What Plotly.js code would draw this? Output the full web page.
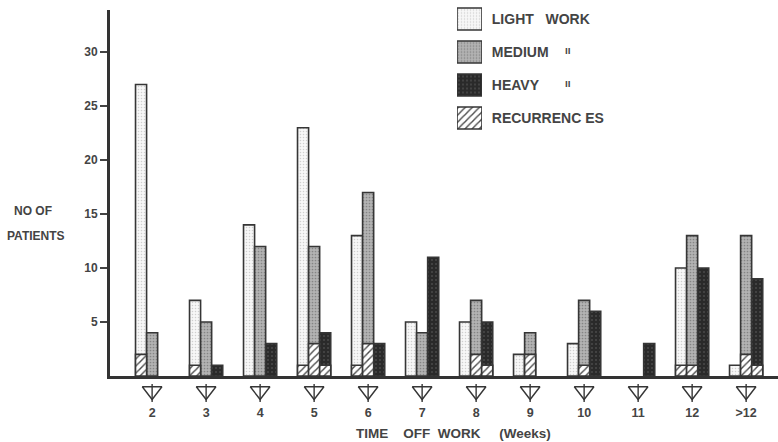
<!DOCTYPE html>
<html><head><meta charset="utf-8">
<script src="https://cdn.plot.ly/plotly-3.0.1.min.js"></script>
<style>html,body{margin:0;padding:0;background:#fff}#chart{width:778px;height:442px}</style>
</head><body><div id="chart"></div>
<script>
// ---- data ----
const weeks = ['2','3','4','5','6','7','8','9','10','11','12','>12'];
const lightWork  = [27, 7, 14, 23, 13, 5, 5, 2, 3, null, 10, 1];
const mediumWork = [4, 5, 12, 12, 17, 4, 7, 4, 7, null, 13, 13];
const heavyWork  = [null, 1, 3, 4, 3, 11, 5, null, 6, 3, 10, 9];
const recurLight  = [2, 1, null, 1, 1, null, null, null, null, null, 1, null];
const recurMedium = [null, null, null, 3, 3, null, 2, 2, 1, null, 1, 2];
const recurHeavy  = [null, null, null, 1, null, null, 1, null, null, null, null, 1];
const yTickVals = [5, 10, 15, 20, 25, 30];
const legendLabels = ['LIGHT   WORK', 'MEDIUM', 'HEAVY', 'RECURRENC ES'];
const dittoMark = 'ıı';
const xTitle = 'TIME    OFF  WORK     (Weeks)';
const yTitleLines = ['NO OF', 'PATIENTS'];

// ---- styles ----
const FONT = 'Liberation Sans, Arial, Helvetica, sans-serif';
const INK = '#363636';
const nb = s => s.replace(/ /g, '\u00a0');
const fills = {
  light:  {color:'#f4f4f4', pattern:{shape:'.', fgcolor:'#cfcfcf', bgcolor:'#f7f7f7', size:3, solidity:0.2}},
  medium: {color:'#ababab', pattern:{shape:'.', fgcolor:'#858585', bgcolor:'#b3b3b3', size:3, solidity:0.25}},
  heavy:  {color:'#2c2c2c', pattern:{shape:'.', fgcolor:'#4a4a4a', bgcolor:'#2a2a2a', size:4, solidity:0.2}},
  recur:  {color:'#ffffff', pattern:{shape:'/', fgcolor:'#4a4a4a', bgcolor:'#ffffff', size:5, solidity:0.28}}
};
const W = 0.205;
const OFF = [-0.3075, -0.1025, 0.1025];
const PH = 400;               // plot-area height in px (margin.t = 0)
const py = px => (PH - px) / PH;   // pixel row -> paper y
const px2 = px => (px - 110) / 668; // pixel column -> paper x

function bar(y, off, f) {
  return {type:'bar', x:weeks, y:y, width:W, offset:off, cliponaxis:false,
    marker:{color:f.color, pattern:f.pattern, line:{color:INK, width:1.6}},
    hoverinfo:'skip', showlegend:false};
}
function legendSwatch(label, f) {
  return {type:'bar', orientation:'h', y:[nb(label)], x:[1], xaxis:'x2', yaxis:'y2',
    width:0.67, cliponaxis:false,
    marker:{color:f.color, pattern:f.pattern, line:{color:INK, width:1.6}},
    hoverinfo:'skip', showlegend:false};
}

const traces = [
  bar(lightWork, OFF[0], fills.light),
  bar(mediumWork, OFF[1], fills.medium),
  bar(heavyWork, OFF[2], fills.heavy),
  bar(recurLight, OFF[0], fills.recur),
  bar(recurMedium, OFF[1], fills.recur),
  bar(recurHeavy, OFF[2], fills.recur),
  // arrow markers in the strip under the axis
  {type:'scatter', mode:'markers', x:weeks, y:weeks.map(() => -14), xaxis:'x3', yaxis:'y3',
   cliponaxis:false,
   marker:{symbol:'triangle-down-open', size:17, color:INK, line:{width:1.4, color:INK}},
   hoverinfo:'skip', showlegend:false},
  {type:'scatter', mode:'markers', x:weeks, y:weeks.map(() => -16), xaxis:'x3', yaxis:'y3',
   cliponaxis:false,
   marker:{symbol:'line-ns-open', size:13, color:INK, line:{width:1.4, color:INK}},
   hoverinfo:'skip', showlegend:false},
  legendSwatch(legendLabels[0], fills.light),
  legendSwatch(legendLabels[1], fills.medium),
  legendSwatch(legendLabels[2], fills.heavy),
  legendSwatch(legendLabels[3], fills.recur)
];

const tf = {family:FONT, size:12, color:'#444', weight:'bold'};
const layout = {
  width:778, height:442,
  margin:{l:110, r:0, t:0, b:442 - PH},
  paper_bgcolor:'#fff', plot_bgcolor:'rgba(0,0,0,0)',
  barmode:'overlay', showlegend:false,
  font:{family:FONT, color:'#444'},
  xaxis:{type:'category', range:[-0.78, 11.59], showgrid:false, zeroline:false,
    showline:true, linewidth:3, linecolor:'#333',
    ticks:'outside', ticklen:23, tickcolor:'rgba(0,0,0,0)', tickfont:{...tf, size:12.5},
    fixedrange:true},
  yaxis:{domain:[py(376), py(10)], range:[0, 33.9], showgrid:false, zeroline:false,
    showline:true, linewidth:3, linecolor:'#333',
    tickvals:yTickVals, ticks:'outside', ticklen:7, tickwidth:1.5, tickcolor:'#444',
    tickfont:tf, fixedrange:true},
  xaxis3:{type:'category', matches:'x', anchor:'y3', visible:false, fixedrange:true},
  yaxis3:{domain:[0, py(377)], range:[-(PH - 377), 0], anchor:'x3', visible:false, fixedrange:true},
  xaxis2:{domain:[px2(457), px2(482)], range:[0, 1], anchor:'y2', visible:false, fixedrange:true},
  yaxis2:{domain:[py(134.5), py(2.5)], anchor:'x2', type:'category', autorange:'reversed',
    side:'right', showline:false, showgrid:false, zeroline:false,
    ticks:'outside', ticklen:6, tickcolor:'rgba(0,0,0,0)',
    tickfont:{...tf, size:14}, fixedrange:true},
  annotations:[
    {xref:'paper', yref:'paper', x:px2(453), y:py(433), text:nb(xTitle), showarrow:false,
     font:{...tf, size:13.5}, xanchor:'center', yanchor:'middle'},
    {xref:'paper', yref:'paper', x:px2(33), y:py(211), text:yTitleLines[0], showarrow:false,
     font:{...tf, size:12}, xanchor:'center', yanchor:'middle'},
    {xref:'paper', yref:'paper', x:px2(36), y:py(236), text:yTitleLines[1], showarrow:false,
     font:{...tf, size:12}, xanchor:'center', yanchor:'middle'},
    {xref:'paper', yref:'paper', x:px2(568), y:py(51), text:dittoMark, showarrow:false,
     font:{...tf, size:10}, xanchor:'center', yanchor:'middle'},
    {xref:'paper', yref:'paper', x:px2(568), y:py(84), text:dittoMark, showarrow:false,
     font:{...tf, size:10}, xanchor:'center', yanchor:'middle'}
  ]
};

Plotly.newPlot('chart', traces, layout, {displayModeBar:false, staticPlot:true});
</script>
</body></html>
